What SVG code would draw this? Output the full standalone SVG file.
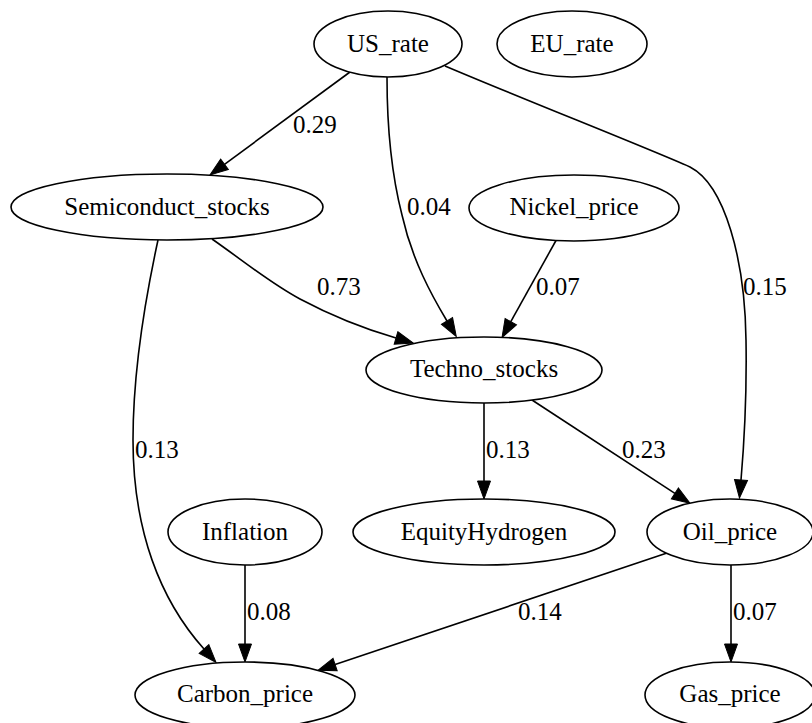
<svg xmlns="http://www.w3.org/2000/svg" width="812" height="723" viewBox="0 0 812 723" font-family="'Liberation Serif', 'DejaVu Serif', serif">
  <style>
    text { font-family: "Liberation Serif", "DejaVu Serif", serif; font-size: 25px; fill: #000000; }
    .node ellipse { fill: #ffffff; stroke: #000000; stroke-width: 1.6; }
    .node text { text-anchor: middle; }
    .edge path { fill: none; stroke: #000000; stroke-width: 1.6; marker-end: url(#arrow); }
  </style>
  <defs>
    <!-- graphviz-style "normal" arrowhead, drawn forward from the path end -->
    <marker id="arrow" markerUnits="userSpaceOnUse" markerWidth="19" markerHeight="14" refX="0" refY="6.5" orient="auto" overflow="visible">
      <path d="M0,0 L18,6.5 L0,13 Z" fill="#000000" stroke="#000000" stroke-width="1"/>
    </marker>
  </defs>
  <rect x="0" y="0" width="812" height="723" fill="#ffffff"/>

  <g id="edges">
    <g class="edge" id="US_rate-Semiconduct_stocks">
      <path d="M350,72 L224.5,164.3"/>
      <text x="293" y="133">0.29</text>
    </g>
    <g class="edge" id="US_rate-Techno_stocks">
      <path d="M387,77 C387,130 393,180 402,215 C412,260 432,296 447,321"/>
      <text x="407" y="215">0.04</text>
    </g>
    <g class="edge" id="US_rate-Oil_price">
      <path d="M445,66 C530,102 640,145 690,167 C725,185 745,260 746,340 C747,400 744,445 741,480"/>
      <text x="743" y="295">0.15</text>
    </g>
    <g class="edge" id="Semiconduct_stocks-Techno_stocks">
      <path d="M212,239 C245,262 270,283 300,299 C330,315 365,329 396,338"/>
      <text x="317" y="295">0.73</text>
    </g>
    <g class="edge" id="Nickel_price-Techno_stocks">
      <path d="M556,240.5 L510.8,321.7"/>
      <text x="536" y="295">0.07</text>
    </g>
    <g class="edge" id="Techno_stocks-EquityHydrogen">
      <path d="M484,403 L484,481"/>
      <text x="486" y="458">0.13</text>
    </g>
    <g class="edge" id="Techno_stocks-Oil_price">
      <path d="M532,400 L674.9,493.4"/>
      <text x="622" y="458">0.23</text>
    </g>
    <g class="edge" id="Semiconduct_stocks-Carbon_price">
      <path d="M158,240 C145,300 133,370 133,440 C133,530 160,600 204,649"/>
      <text x="135" y="458">0.13</text>
    </g>
    <g class="edge" id="Inflation-Carbon_price">
      <path d="M245,565 L245,644"/>
      <text x="247" y="620">0.08</text>
    </g>
    <g class="edge" id="Oil_price-Carbon_price">
      <path d="M667,553 L335.1,664.6"/>
      <text x="518" y="620">0.14</text>
    </g>
    <g class="edge" id="Oil_price-Gas_price">
      <path d="M731,565 L731,644"/>
      <text x="733" y="620">0.07</text>
    </g>
  </g>

  <g class="node" id="US_rate">
    <ellipse cx="388" cy="44" rx="74" ry="33"/>
    <text x="388" y="52">US_rate</text>
  </g>
  <g class="node" id="EU_rate">
    <ellipse cx="572" cy="44" rx="75" ry="33"/>
    <text x="572" y="52">EU_rate</text>
  </g>
  <g class="node" id="Semiconduct_stocks">
    <ellipse cx="167" cy="207" rx="156" ry="33"/>
    <text x="167" y="215">Semiconduct_stocks</text>
  </g>
  <g class="node" id="Nickel_price">
    <ellipse cx="574" cy="208" rx="105" ry="33"/>
    <text x="574" y="215">Nickel_price</text>
  </g>
  <g class="node" id="Techno_stocks">
    <ellipse cx="484" cy="370" rx="118" ry="33"/>
    <text x="484" y="377">Techno_stocks</text>
  </g>
  <g class="node" id="Inflation">
    <ellipse cx="245" cy="532" rx="77" ry="33"/>
    <text x="245" y="540">Inflation</text>
  </g>
  <g class="node" id="EquityHydrogen">
    <ellipse cx="484" cy="532" rx="131" ry="33"/>
    <text x="484" y="540">EquityHydrogen</text>
  </g>
  <g class="node" id="Oil_price">
    <ellipse cx="730" cy="532" rx="83" ry="33"/>
    <text x="730" y="540">Oil_price</text>
  </g>
  <g class="node" id="Carbon_price">
    <ellipse cx="245" cy="695" rx="110" ry="33"/>
    <text x="245" y="702">Carbon_price</text>
  </g>
  <g class="node" id="Gas_price">
    <ellipse cx="730" cy="695" rx="85" ry="33"/>
    <text x="730" y="702">Gas_price</text>
  </g>
</svg>
